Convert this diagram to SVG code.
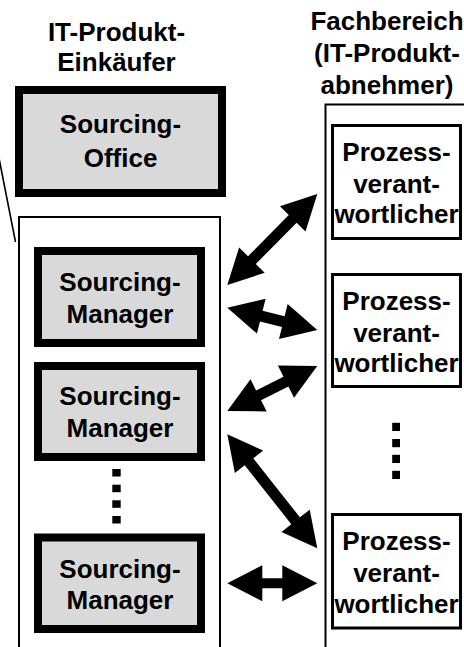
<svg xmlns="http://www.w3.org/2000/svg" width="464" height="647" viewBox="0 0 464 647">
<style>
text{font-family:"Liberation Sans",Arial,sans-serif;font-weight:bold;font-size:26px;fill:#000;text-anchor:middle}
.thick{fill:#d9d9d9;stroke:#000;stroke-width:8}
.thin{fill:#fff;stroke:#000;stroke-width:3}
.frame{fill:none;stroke:#000;stroke-width:2}
.dot{fill:#000}
.arr{fill:#000}
</style>
<rect width="464" height="647" fill="#fff"/>
<g id="col-left">
<path class="frame" d="M19,660 V217 H220 V660"/>
<line x1="-3" y1="148" x2="15.5" y2="242" stroke="#000" stroke-width="1.6"/>
<text x="116.5" y="41">IT-Produkt-</text>
<text x="116.5" y="71">Einkäufer</text>
</g>
<g id="col-right">
<path class="frame" d="M325.5,660 V104.5 H470"/>
<text x="387" y="29.5">Fachbereich</text>
<text x="387" y="62">(IT-Produkt-</text>
<text x="387" y="94">abnehmer)</text>
</g>
<g id="sourcing-office">
<rect class="thick" x="19" y="90" width="203" height="103"/>
<text x="120.5" y="133">Sourcing-</text>
<text x="120.5" y="166.5">Office</text>
</g>
<g id="sm1">
<rect class="thick" x="38" y="251" width="163" height="92"/>
<text x="120" y="291">Sourcing-</text>
<text x="120" y="323">Manager</text>
</g>
<g id="sm2">
<rect class="thick" x="38" y="366" width="163" height="91"/>
<text x="120" y="405">Sourcing-</text>
<text x="120" y="437">Manager</text>
</g>
<g id="sm-dots">
<rect class="dot" x="112.3" y="469" width="8.4" height="7.5"/>
<rect class="dot" x="112.3" y="484.7" width="8.4" height="7.5"/>
<rect class="dot" x="112.3" y="500.3" width="8.4" height="7.5"/>
<rect class="dot" x="112.3" y="516" width="8.4" height="7.5"/>
</g>
<g id="sm3">
<rect class="thick" x="38" y="537.5" width="163" height="91.5"/>
<text x="120" y="577.5">Sourcing-</text>
<text x="120" y="609">Manager</text>
</g>
<g id="pv1">
<rect class="thin" x="332.5" y="125.5" width="128" height="113"/>
<text x="396.5" y="160.5">Prozess-</text>
<text x="396.5" y="192.5">verant-</text>
<text x="396.5" y="223">wortlicher</text>
</g>
<g id="pv2">
<rect class="thin" x="332.5" y="274.5" width="128" height="112"/>
<text x="396.5" y="309.5">Prozess-</text>
<text x="396.5" y="341.5">verant-</text>
<text x="396.5" y="372">wortlicher</text>
</g>
<g id="pv-dots">
<rect class="dot" x="392.2" y="422.8" width="7.8" height="8.2"/>
<rect class="dot" x="392.2" y="439" width="7.8" height="8.2"/>
<rect class="dot" x="392.2" y="454.8" width="7.8" height="8.2"/>
<rect class="dot" x="392.2" y="470.8" width="7.8" height="8.2"/>
</g>
<g id="pv3">
<rect class="thin" x="332.5" y="514.5" width="128" height="113.5"/>
<text x="396.5" y="549.5">Prozess-</text>
<text x="396.5" y="581.5">verant-</text>
<text x="396.5" y="612.5">wortlicher</text>
</g>
<g id="connectors">
<polygon class="arr" transform="translate(227.3,285) rotate(-45.3)" points="0,0 35,-18 35,-5.5 93,-5.5 93,-18 128,0 93,18 93,5.5 35,5.5 35,18"/>
<polygon class="arr" transform="translate(227.3,307.7) rotate(13.9)" points="0,0 35,-18 35,-5.5 57.7,-5.5 57.7,-18 92.7,0 57.7,18 57.7,5.5 35,5.5 35,18"/>
<polygon class="arr" transform="translate(227.3,411) rotate(-26.6)" points="0,0 35,-18 35,-5.5 65.6,-5.5 65.6,-18 100.6,0 65.6,18 65.6,5.5 35,5.5 35,18"/>
<polygon class="arr" transform="translate(227.3,434.3) rotate(51.7)" points="0,0 35,-18 35,-5.5 110.2,-5.5 110.2,-18 145.2,0 110.2,18 110.2,5.5 35,5.5 35,18"/>
<polygon class="arr" transform="translate(227.3,583.3)" points="0,0 35,-18 35,-5 55,-5 55,-18 90,0 55,18 55,5 35,5 35,18"/>
</g>
</svg>
